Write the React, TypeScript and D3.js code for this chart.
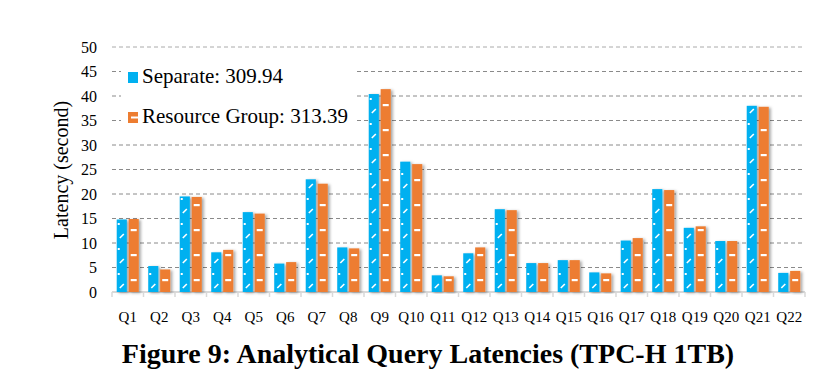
import React from 'react'
import * as d3 from 'd3'

const queries = [
	'Q1', 'Q2', 'Q3', 'Q4', 'Q5', 'Q6', 'Q7', 'Q8', 'Q9', 'Q10', 'Q11',
	'Q12', 'Q13', 'Q14', 'Q15', 'Q16', 'Q17', 'Q18', 'Q19', 'Q20', 'Q21', 'Q22'
]
const separate = [
	14.8, 5.3, 19.5, 8.1, 16.3, 5.8, 23.0, 9.1, 40.4, 26.6, 3.4,
	7.9, 16.9, 5.9, 6.5, 4.0, 10.5, 21.0, 13.1, 10.4, 38.0, 3.9
]
const resourceGroup = [
	14.9, 4.6, 19.4, 8.6, 16.0, 6.1, 22.1, 8.9, 41.4, 26.1, 3.2,
	9.1, 16.7, 5.9, 6.5, 3.8, 11.0, 20.8, 13.4, 10.4, 37.8, 4.3
]
const seriesNames = ['Separate: 309.94', 'Resource Group: 313.39']
const yTicks = [0, 5, 10, 15, 20, 25, 30, 35, 40, 45, 50]

const W = 840
const H = 386
const left = 112
const right = 805
const top = 47
const bottom = 292
const BLUE = '#00b0f0'
const ORANGE = '#ed7d31'
const serif = '"Liberation Serif", "Times New Roman", serif'

const App = () => {
	const x0 = d3.scaleBand<string>().domain(queries).range([left, right]).paddingInner(0.3).paddingOuter(0.15)
	const x1 = d3.scaleBand<number>().domain([0, 1]).range([0, x0.bandwidth()]).paddingInner(0.15)
	const y = d3.scaleLinear().domain([0, 50]).range([bottom, top])
	const step = x0.step()

	// white marks inside a bar (texture of the original)
	const marks = (s: number, bx: number, bw: number, v: number) => {
		const out: React.ReactNode[] = []
		const yTop = y(v)
		for (let yy = bottom - (s === 0 ? 6 : 12); yy > yTop + 2; yy -= 25) {
			if (s === 1) {
				out.push(<rect key={yy} x={bx + bw / 2 - 3} y={yy - 1} width={6} height={2.2} fill="#fff" />)
			} else {
				out.push(
					<line key={yy} x1={bx + bw / 2 - 2} y1={yy + 2} x2={bx + bw / 2 + 2} y2={yy - 2}
						stroke="#fff" strokeWidth={1.6} />
				)
				if (yy - 12 > yTop + 2)
					out.push(<rect key={'d' + yy} x={bx + 1} y={yy - 13} width={2} height={2} fill="#fff" />)
			}
		}
		return out
	}

	return (
		<svg width={W} height={H} style={{ position: 'absolute', left: 0, top: 0, background: '#fff' }}>
			<defs>
				<filter id="shadow" x="-50%" y="-10%" width="200%" height="120%">
					<feDropShadow dx={2} dy={1} stdDeviation={1.4} floodColor="#000" floodOpacity={0.35} />
				</filter>
			</defs>
			{/* grid */}
			{yTicks.filter((t) => t > 0).map((t) => (
				<line key={t} x1={left} x2={right} y1={y(t)} y2={y(t)}
					stroke={t === 50 ? '#aaa' : '#8a8a8a'} strokeDasharray="4,3" />
			))}
			{/* legend box */}
			<rect x={121} y={60} width={233} height={73} fill="#fff" />
			{/* x axis */}
			<line x1={left} x2={right} y1={bottom} y2={bottom} stroke="#d9d9d9" strokeWidth={2} />
			{queries.map((q, i) => (
				<line key={q} x1={left + i * step} x2={left + i * step} y1={bottom} y2={bottom + 5} stroke="#d9d9d9" strokeWidth={1.5} />
			))}
			<line x1={right} x2={right} y1={bottom} y2={bottom + 5} stroke="#d9d9d9" strokeWidth={1.5} />
			{/* bars */}
			{queries.map((q, i) =>
				[separate[i], resourceGroup[i]].map((v, s) => {
					const bx = (x0(q) || 0) + (x1(s) || 0)
					const bw = x1.bandwidth()
					return (
						<g key={q + s}>
							<rect x={bx} y={y(v)} width={bw} height={bottom - y(v)}
								fill={s === 0 ? BLUE : ORANGE} filter="url(#shadow)" />
							{marks(s, bx, bw, v)}
						</g>
					)
				})
			)}
			{/* y ticks */}
			{yTicks.map((t) => (
				<text key={t} x={97} y={y(t)} dy="0.35em" textAnchor="end" fontFamily={serif} fontSize={16}>{t}</text>
			))}
			{/* x labels */}
			{queries.map((q) => (
				<text key={q} x={(x0(q) || 0) + x0.bandwidth() / 2} y={322} textAnchor="middle" fontFamily={serif} fontSize={15}>{q}</text>
			))}
			<text transform={`translate(68,170) rotate(-90)`} textAnchor="middle" fontFamily={serif} fontSize={20}>
				Latency (second)
			</text>
			{/* legend */}
			<rect x={128} y={72} width={10} height={11} fill={BLUE} />
			<text x={142} y={83} fontFamily={serif} fontSize={21}>{seriesNames[0]}</text>
			<rect x={128} y={112} width={10} height={11} fill={ORANGE} />
			<rect x={131} y={116.5} width={7} height={2} fill="#fff" />
			<text x={142} y={123} fontFamily={serif} fontSize={21}>{seriesNames[1]}</text>
			{/* title */}
			<text x={428} y={363} textAnchor="middle" fontFamily={serif} fontWeight="bold" fontSize={28}>
				Figure 9: Analytical Query Latencies (TPC-H 1TB)
			</text>
		</svg>
	)
}

export default App
